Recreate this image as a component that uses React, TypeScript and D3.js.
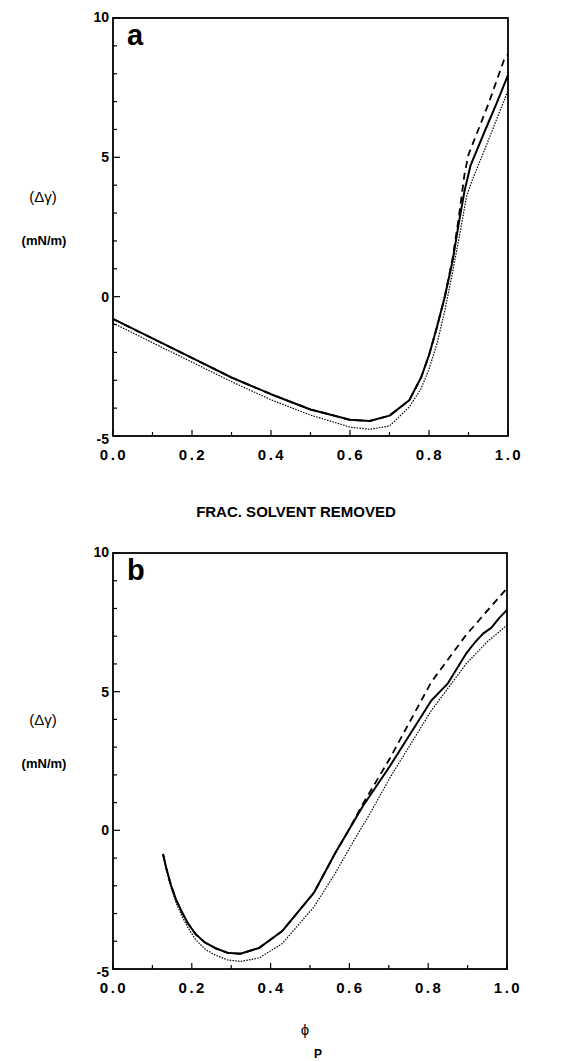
import React from 'react';
import * as d3 from 'd3';

// ---- data ----
const aSolidX = [0.0, 0.1, 0.2, 0.3, 0.4, 0.5, 0.6, 0.65, 0.7, 0.75, 0.78, 0.8, 0.82, 0.84, 0.86, 0.875, 0.89, 0.905, 0.94, 0.97, 1.0];
const aSolidY = [-0.8, -1.5, -2.2, -2.9, -3.5, -4.05, -4.42, -4.46, -4.27, -3.72, -2.9, -2.1, -1.1, 0.0, 1.3, 2.6, 3.8, 4.7, 5.9, 6.9, 7.95];
const aDashX = [0.0, 0.1, 0.2, 0.3, 0.4, 0.5, 0.6, 0.65, 0.7, 0.75, 0.78, 0.8, 0.82, 0.84, 0.86, 0.875, 0.89, 0.9, 0.95, 0.99, 1.0];
const aDashY = [-0.8, -1.5, -2.2, -2.9, -3.5, -4.05, -4.42, -4.46, -4.27, -3.72, -2.9, -2.1, -1.1, 0.0, 1.4, 2.8, 4.4, 5.1, 6.9, 8.5, 8.7];
const aDotX = [0.0, 0.1, 0.2, 0.3, 0.4, 0.5, 0.6, 0.65, 0.7, 0.75, 0.78, 0.8, 0.82, 0.84, 0.86, 0.88, 0.895, 0.91, 0.95, 1.0];
const aDotY = [-0.95, -1.65, -2.35, -3.05, -3.7, -4.25, -4.68, -4.76, -4.64, -3.96, -3.3, -2.6, -1.7, -0.5, 0.9, 2.4, 3.6, 4.2, 5.6, 7.4];

const bSolidX = [0.127, 0.135, 0.147, 0.16, 0.175, 0.19, 0.21, 0.232, 0.26, 0.29, 0.323, 0.371, 0.429, 0.51, 0.564, 0.6, 0.634, 0.703, 0.808, 0.85, 0.896, 0.92, 0.94, 0.96, 0.98, 1.0];
const bSolidY = [-0.85, -1.35, -1.97, -2.5, -2.95, -3.35, -3.75, -4.03, -4.25, -4.41, -4.45, -4.24, -3.64, -2.25, -0.82, 0.05, 0.87, 2.32, 4.68, 5.3, 6.37, 6.8, 7.1, 7.3, 7.65, 7.95];
const bDashX = [0.127, 0.135, 0.147, 0.16, 0.175, 0.19, 0.21, 0.232, 0.26, 0.29, 0.323, 0.371, 0.429, 0.51, 0.564, 0.6, 0.634, 0.703, 0.808, 0.896, 1.0];
const bDashY = [-0.85, -1.35, -1.97, -2.5, -2.95, -3.35, -3.75, -4.03, -4.25, -4.41, -4.45, -4.24, -3.64, -2.25, -0.82, 0.05, 0.95, 2.6, 5.35, 7.04, 8.73];
const bDotX = [0.127, 0.135, 0.147, 0.16, 0.175, 0.19, 0.21, 0.235, 0.26, 0.29, 0.323, 0.371, 0.429, 0.51, 0.564, 0.61, 0.65, 0.703, 0.808, 0.896, 0.95, 1.0];
const bDotY = [-0.9, -1.4, -2.05, -2.6, -3.1, -3.5, -3.95, -4.3, -4.5, -4.67, -4.73, -4.6, -4.09, -2.76, -1.55, -0.4, 0.55, 1.9, 4.32, 6.0, 6.8, 7.4];

const xTickValues = [0, 0.1, 0.2, 0.3, 0.4, 0.5, 0.6, 0.7, 0.8, 0.9, 1.0];
const xTickLabels = [0, 0.2, 0.4, 0.6, 0.8, 1.0];
const yTickValues = [-5, -4, -3, -2, -1, 0, 1, 2, 3, 4, 5, 6, 7, 8, 9, 10];
const yTickLabels = [-5, 0, 5, 10];

const FONT = '"Liberation Sans", Arial, Helvetica, sans-serif';

type Series = { xs: number[]; ys: number[]; kind: 'solid' | 'dash' | 'dot' };

function Panel(props: {
  top: number; bottom: number; left: number; right: number;
  letter: string; series: Series[];
}) {
  const { top, bottom, left, right, letter, series } = props;
  const x = d3.scaleLinear().domain([0, 1]).range([left, right]);
  const y = d3.scaleLinear().domain([-5, 10]).range([bottom, top]);
  const line = d3.line<[number, number]>().x(d => x(d[0])).y(d => y(d[1]));
  const styles: Record<string, any> = {
    solid: { strokeWidth: 2, strokeDasharray: undefined },
    dash: { strokeWidth: 1.8, strokeDasharray: '7,5' },
    dot: { strokeWidth: 1.2, strokeDasharray: '1.5,1.3' },
  };
  return (
    <g>
      {series.map((s, i) => (
        <path key={i}
          d={line(s.xs.map((v, j) => [v, s.ys[j]] as [number, number])) || ''}
          fill="none" stroke="#000"
          strokeWidth={styles[s.kind].strokeWidth}
          strokeDasharray={styles[s.kind].strokeDasharray}
          strokeLinejoin="round" />
      ))}
      <rect x={left} y={top} width={right - left} height={bottom - top}
        fill="none" stroke="#000" strokeWidth={1.8} />
      {yTickValues.map(v => {
        const major = v % 5 === 0;
        return <line key={'yt' + v} x1={left} x2={left + (major ? 7 : 4)} y1={y(v)} y2={y(v)} stroke="#000" strokeWidth={1.2} />;
      })}
      {xTickValues.map((v, i) => {
        const major = i % 2 === 0;
        return <line key={'xt' + i} x1={x(v)} x2={x(v)} y1={bottom} y2={bottom - (major ? 6 : 4)} stroke="#000" strokeWidth={1.2} />;
      })}
      {yTickLabels.map(v => (
        <text key={'yl' + v} x={left - 4} y={y(v) + (v === -5 ? 8 : v === 10 ? 4 : 5)}
          textAnchor="end" fontFamily={FONT} fontWeight="bold" fontSize={14}>{String(v)}</text>
      ))}
      {xTickLabels.map(v => (
        <text key={'xl' + v} x={x(v) + 1} y={bottom + 24}
          textAnchor="middle" fontFamily={FONT} fontWeight="bold" fontSize={15}
          letterSpacing={2.5}>{d3.format('.1f')(v)}</text>
      ))}
      <text x={left + 14} y={top + 27} fontFamily={FONT} fontWeight="bold" fontSize={29}>{letter}</text>
    </g>
  );
}

export default function App() {
  const panelA: Series[] = [
    { xs: aDotX, ys: aDotY, kind: 'dot' },
    { xs: aDashX, ys: aDashY, kind: 'dash' },
    { xs: aSolidX, ys: aSolidY, kind: 'solid' },
  ];
  const panelB: Series[] = [
    { xs: bDotX, ys: bDotY, kind: 'dot' },
    { xs: bDashX, ys: bDashY, kind: 'dash' },
    { xs: bSolidX, ys: bSolidY, kind: 'solid' },
  ];
  return (
    <svg width={570} height={1062} style={{ position: 'absolute', left: 0, top: 0, background: '#fff' }}>
      <rect x={0} y={0} width={570} height={1062} fill="#fff" />
      <Panel top={18} bottom={436} left={113} right={508} letter="a" series={panelA} />
      <Panel top={553} bottom={969} left={113} right={507} letter="b" series={panelB} />
      <text x={43} y={202} textAnchor="middle" fontFamily={FONT} fontSize={15}>(Δγ)</text>
      <text x={44} y={245} textAnchor="middle" fontFamily={FONT} fontWeight="bold" fontSize={13}>(mN/m)</text>
      <text x={43} y={725} textAnchor="middle" fontFamily={FONT} fontSize={15}>(Δγ)</text>
      <text x={44} y={768} textAnchor="middle" fontFamily={FONT} fontWeight="bold" fontSize={13}>(mN/m)</text>
      <text x={296} y={517} textAnchor="middle" fontFamily={FONT} fontWeight="bold" fontSize={15}>FRAC. SOLVENT REMOVED</text>
      <text x={305} y={1035} textAnchor="middle" fontFamily={FONT} fontSize={15}>ϕ</text>
      <text x={318} y={1058} textAnchor="middle" fontFamily={FONT} fontWeight="bold" fontSize={12}>P</text>
    </svg>
  );
}
